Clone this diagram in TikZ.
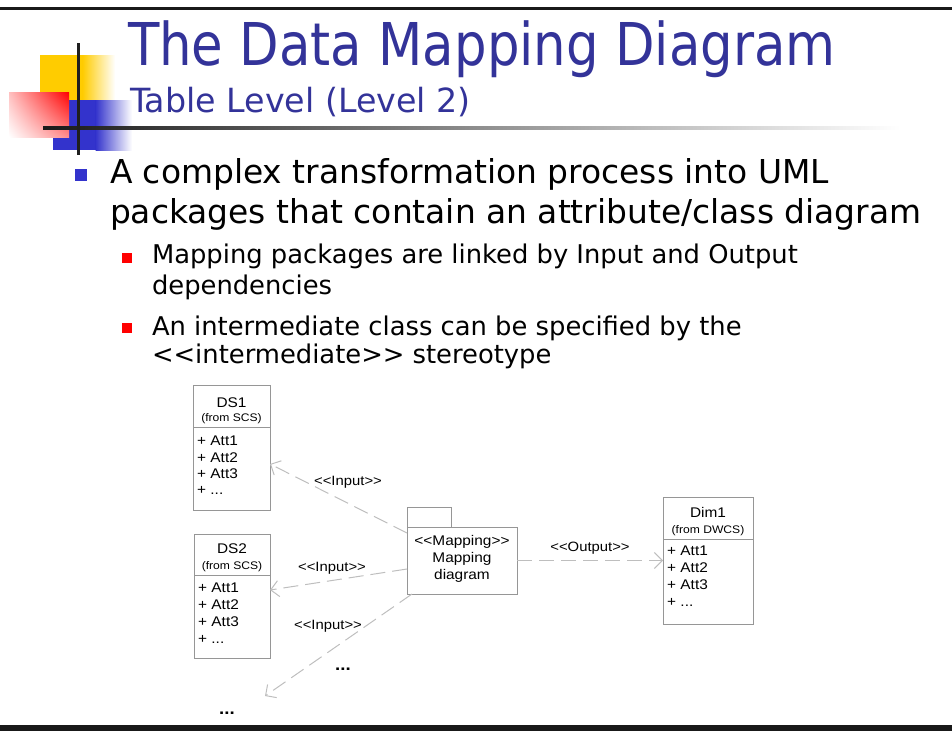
\documentclass[tikz,border=0pt]{standalone}
\usepackage{fontspec}
\setmainfont{DejaVu Sans}
\newfontfamily\tah[FakeStretch=0.87]{DejaVu Sans}
\newfontfamily\verd{DejaVu Sans}
\newfontfamily\umlfont[FakeStretch=1.1]{Liberation Sans}
\usetikzlibrary{arrows.meta,calc,shadings}
\definecolor{titleblue}{RGB}{51,51,153}
\definecolor{logoblue}{RGB}{51,51,204}
\definecolor{logoyellow}{RGB}{255,204,0}
\definecolor{logored}{RGB}{255,0,0}
\definecolor{boxgray}{RGB}{150,150,150}
\definecolor{depgray}{RGB}{190,190,190}
\tikzset{
  txt/.style={anchor=base west, inner sep=0pt, outer sep=0pt},
  titletxt/.style={txt, text=titleblue, font=\tah\fontsize{59}{60}\selectfont},
  subtitletxt/.style={txt, text=titleblue, font=\verd\fontsize{33.3}{36}\selectfont},
  bodytxt/.style={txt, text=black, font=\verd\fontsize{32.9}{35}\selectfont},
  subtxt/.style={txt, text=black, font=\verd\fontsize{25.8}{28}\selectfont},
  umlbox/.style={draw=boxgray, line width=0.9pt, inner sep=0pt, outer sep=0pt},
  umlname/.style={anchor=base, inner sep=0pt, font=\umlfont\fontsize{14}{16}\selectfont},
  umlfrom/.style={anchor=base, inner sep=0pt, font=\umlfont\fontsize{11}{13}\selectfont},
  umlatt/.style={anchor=base west, inner sep=0pt, font=\umlfont\fontsize{14}{16}\selectfont},
  umllabel/.style={anchor=base, inner sep=0pt, font=\umlfont\fontsize{13.5}{15}\selectfont},
  dots/.style={anchor=base, inner sep=0pt, font=\umlfont\bfseries\fontsize{17}{18}\selectfont},
  dep/.style={draw=depgray, line width=1pt, dash pattern=on 15pt off 7pt,
    -{Straight Barb[length=8pt,width=16pt,line width=1pt]}},
}
\begin{document}
\begin{tikzpicture}[x=1pt,y=-1pt]
\useasboundingbox (0,0) rectangle (952,731);
% frame lines
\fill[black!90] (0,6.5) rectangle (952,9.5);
\fill[black!90] (0,725) rectangle (952,731);
% logo
\fill[logoyellow] (40,55) rectangle (83,100);
\shade[left color=logoyellow, right color=white] (82.5,55) rectangle (115,100);
\fill[logoblue] (53,100) rectangle (96,150);
\shade[left color=logoblue, right color=white] (95.5,100) rectangle (132,150);
\shade[upper right=logored, upper left=logored!25, lower right=logored!45, lower left=white] (9,92) rectangle (69,137);
\shade[left color=black!90, right color=white] (43,126.5) rectangle (900,129.5);
\fill[black!88] (76.5,43) rectangle (80,155);
% title
\node[titletxt] (title) at (128,65) {The Data Mapping Diagram};
\node[subtitletxt] (subtitle) at (130,112) {Table Level (Level 2)};
% bullets
\fill[logoblue] (75,169) rectangle (87,181);
\node[bodytxt] (b1a) at (110,183) {A complex transformation process into UML};
\node[bodytxt] (b1b) at (110,223) {packages that contain an attribute/class diagram};
\fill[logored] (122,253) rectangle (132,263);
\node[subtxt] (b2a) at (152,263) {Mapping packages are linked by Input and Output};
\node[subtxt] (b2b) at (152,294) {dependencies};
\fill[logored] (122,323) rectangle (132,333);
\node[subtxt] (b3a) at (152,335) {An intermediate class can be specified by the};
\node[subtxt] (b3b) at (152,363) {<{}<intermediate>{}> stereotype};
% DS1
\node[umlbox, minimum width=77pt, minimum height=125pt] (ds1) at (231.5,447.5) {};
\draw[boxgray, line width=0.9pt] (193,427) -- (270,427);
\node[umlname] (ds1n) at (231.5,407) {DS1};
\node[umlfrom] (ds1f) at (231.5,421) {(from SCS)};
\node[umlatt] (ds1a) at (197,445) {+ Att1};
\node[umlatt] (ds1b) at (197,462) {+ Att2};
\node[umlatt] (ds1c) at (197,478) {+ Att3};
\node[umlatt] (ds1d) at (197,494) {+ ...};
% DS2
\node[umlbox, minimum width=76pt, minimum height=124pt] (ds2) at (232,596) {};
\draw[boxgray, line width=0.9pt] (194,575) -- (270,575);
\node[umlname] (ds2n) at (232,553) {DS2};
\node[umlfrom] (ds2f) at (232,569) {(from SCS)};
\node[umlatt] (ds2a) at (198,592) {+ Att1};
\node[umlatt] (ds2b) at (198,609) {+ Att2};
\node[umlatt] (ds2c) at (198,626) {+ Att3};
\node[umlatt] (ds2d) at (198,643) {+ ...};
% Dim1
\node[umlbox, minimum width=90pt, minimum height=127pt] (dim1) at (708,560.5) {};
\draw[boxgray, line width=0.9pt] (663,539) -- (753,539);
\node[umlname] (dim1n) at (708,517) {Dim1};
\node[umlfrom] (dim1f) at (708,533) {(from DWCS)};
\node[umlatt] (dim1a) at (667,555) {+ Att1};
\node[umlatt] (dim1b) at (667,572) {+ Att2};
\node[umlatt] (dim1c) at (667,589) {+ Att3};
\node[umlatt] (dim1d) at (667,606) {+ ...};
% package
\node[umlbox, minimum width=110pt, minimum height=67pt] (pkg) at (462,560.5) {};
\draw[boxgray, line width=0.9pt] (pkg.north west) -- ++(0,-20) -- ++(44,0) -- ++(0,20);
\node[umlname] (pkg1) at (462,545) {<{}<Mapping>{}>};
\node[umlname] (pkg2) at (462,562) {Mapping};
\node[umlname] (pkg3) at (462,579) {diagram};
% dependencies
\coordinate (more) at (265,696);
\draw[dep] ([yshift=-6pt]pkg.north west) -- ([yshift=-79pt]ds1.north east);
\draw[dep] ([yshift=-8.5pt]pkg.west) -- ([yshift=6pt]ds2.east);
\draw[dep] ([xshift=5pt]pkg.south west) -- (more);
\draw[dep] (pkg.east) -- (dim1.west);
\node[umllabel] (l1) at (348,485) {<{}<Input>{}>};
\node[umllabel] (l2) at (332,571) {<{}<Input>{}>};
\node[umllabel] (l3) at (328,629) {<{}<Input>{}>};
\node[umllabel] (l4) at (590,551) {<{}<Output>{}>};
\node[dots] (d1) at (343,670) {...};
\node[dots] (d2) at (227,714) {...};
\end{tikzpicture}
\end{document}
